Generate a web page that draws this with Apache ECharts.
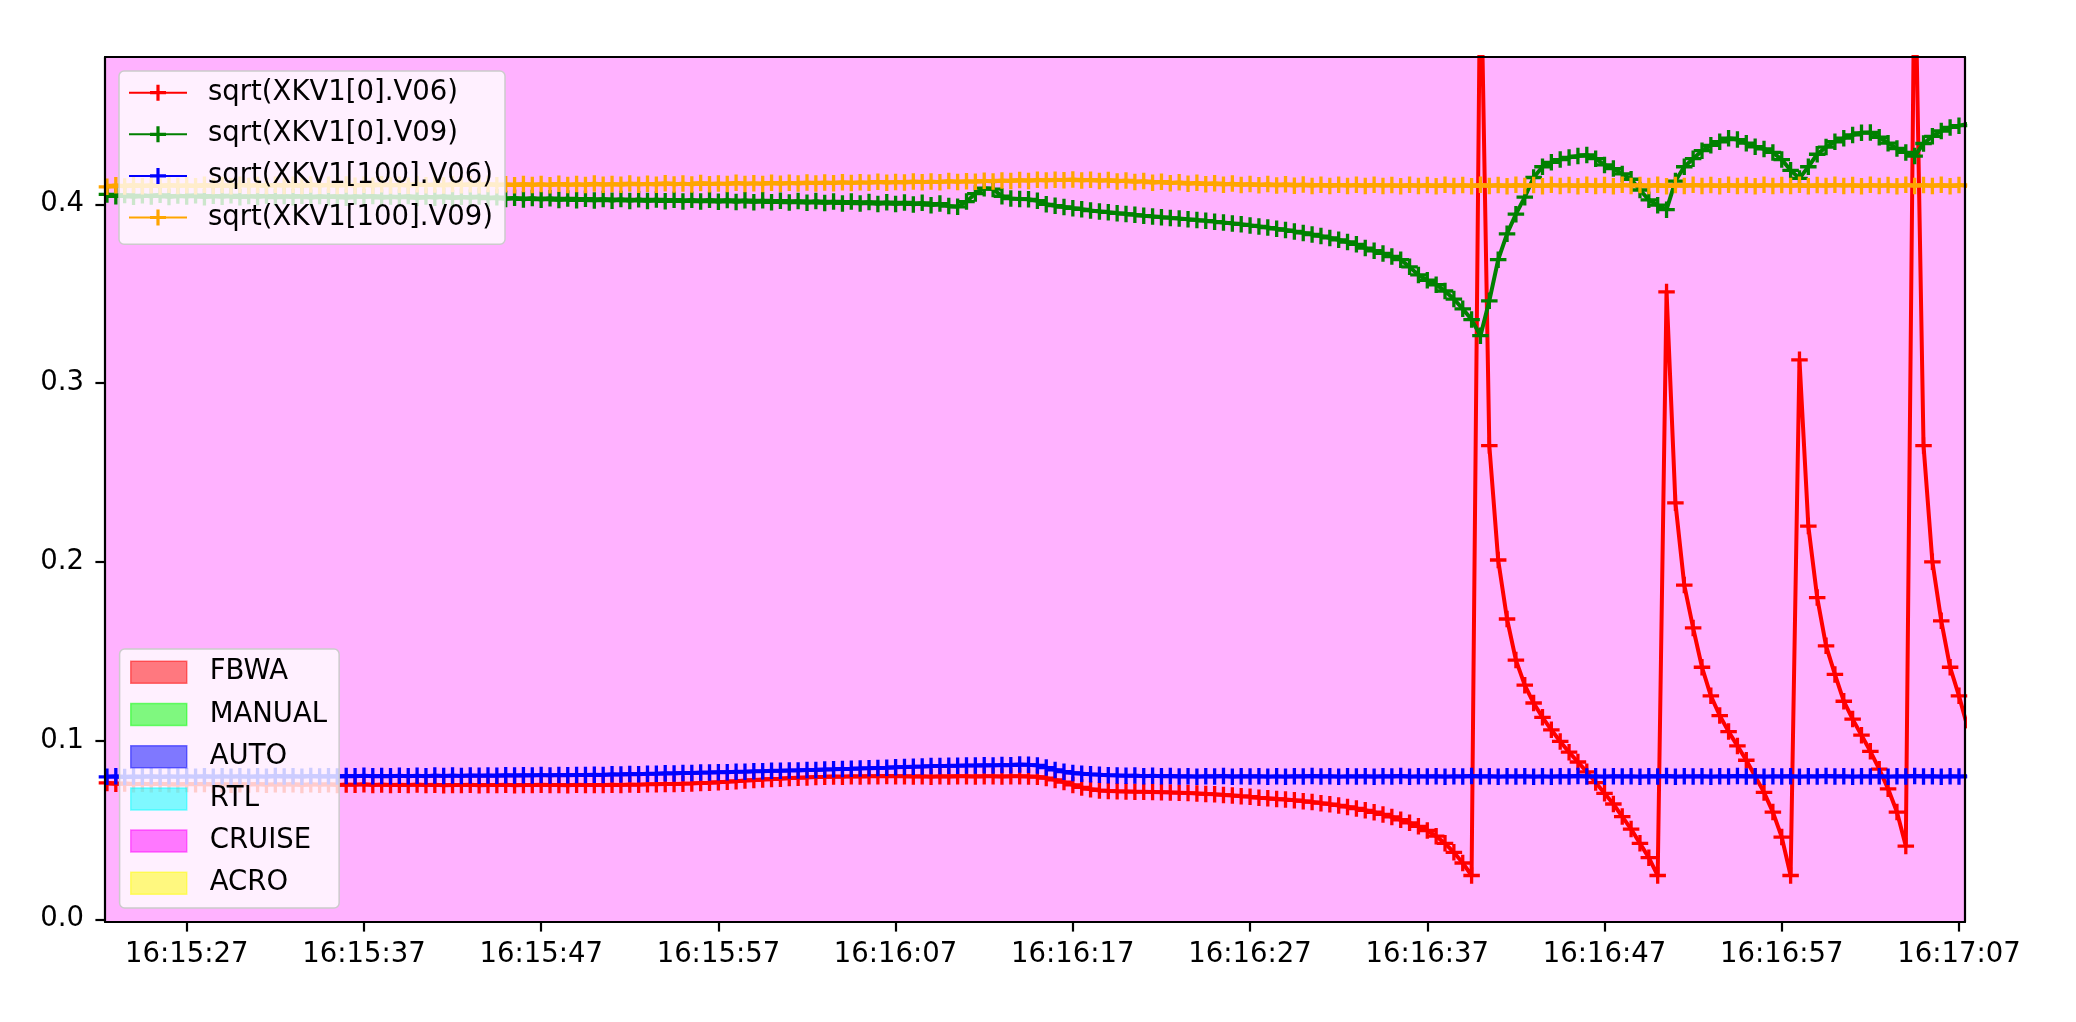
<!DOCTYPE html>
<html>
<head>
<meta charset="utf-8">
<script src="https://cdn.jsdelivr.net/npm/echarts@6/dist/echarts.min.js"></script>
<style>
html,body{margin:0;padding:0;background:#ffffff;}
#chart{width:2076px;height:1022px;}
</style>
</head>
<body>
<div id="chart"></div>
<script>
// ---------------- data ----------------
const seriesNames = ['sqrt(XKV1[0].V06)', 'sqrt(XKV1[0].V09)', 'sqrt(XKV1[100].V06)', 'sqrt(XKV1[100].V09)'];
const seriesColors = ['#ff0000', '#008000', '#0000ff', '#ffa500'];

// samples every 0.5 s starting at this time
const sampleStart = '16:15:22.5';
const samplePeriodSec = 0.5;

const xkv0_v06 = [
0.0763,0.0758,0.0760,0.0756,0.0759,0.0755,0.0758,0.0756,0.0754,0.0757,
0.0755,0.0757,0.0754,0.0756,0.0753,0.0756,0.0754,0.0757,0.0753,0.0755,
0.0754,0.0756,0.0752,0.0755,0.0753,0.0756,0.0752,0.0754,0.0753,0.0755,
0.0752,0.0754,0.0751,0.0753,0.0752,0.0754,0.0751,0.0753,0.0750,0.0752,
0.0751,0.0753,0.0750,0.0752,0.0751,0.0753,0.0750,0.0752,0.0751,0.0753,
0.0751,0.0752,0.0750,0.0753,0.0751,0.0752,0.0751,0.0753,0.0752,0.0754,
0.0753,0.0755,0.0755,0.0757,0.0757,0.0759,0.0760,0.0762,0.0764,0.0767,
0.0770,0.0773,0.0776,0.0779,0.0782,0.0785,0.0787,0.0790,0.0792,0.0794,
0.0796,0.0797,0.0799,0.0798,0.0800,0.0799,0.0801,0.0800,0.0802,0.0800,
0.0801,0.0799,0.0800,0.0798,0.0800,0.0799,0.0801,0.0800,0.0799,0.0801,
0.0800,0.0799,0.0800,0.0801,0.0799,0.0797,0.0790,0.0780,0.0768,0.0752,
0.0738,0.0728,0.0721,0.0718,0.0716,0.0715,0.0714,0.0713,0.0712,0.0711,
0.0710,0.0708,0.0706,0.0704,0.0701,0.0699,0.0696,0.0693,0.0689,0.0686,
0.0680,0.0677,0.0673,0.0670,0.0666,0.0661,0.0656,0.0650,0.0644,0.0637,
0.0629,0.0620,0.0610,0.0599,0.0587,0.0573,0.0557,0.0540,0.0520,0.0497,
0.0465,0.0425,0.0375,0.0315,0.0245,0.5500,0.2650,0.2010,0.1680,0.1450,
0.1310,0.1210,0.1130,0.1060,0.0995,0.0935,0.0880,0.0825,0.0765,0.0705,
0.0645,0.0575,0.0505,0.0425,0.0345,0.0245,0.3510,0.2330,0.1870,0.1630,
0.1410,0.1250,0.1140,0.1050,0.0970,0.0890,0.0800,0.0710,0.0600,0.0460,
0.0245,0.3130,0.2200,0.1800,0.1530,0.1370,0.1220,0.1120,0.1030,0.0940,
0.0840,0.0730,0.0600,0.0410,0.5500,0.2650,0.2000,0.1670,0.1410,0.1250,
0.1070
];

const xkv0_v09 = [
0.4055,0.4045,0.4052,0.4042,0.4050,0.4044,0.4053,0.4041,0.4049,0.4043,
0.4051,0.4040,0.4048,0.4042,0.4050,0.4039,0.4047,0.4041,0.4049,0.4038,
0.4047,0.4040,0.4048,0.4037,0.4046,0.4039,0.4047,0.4036,0.4045,0.4040,
0.4047,0.4036,0.4044,0.4038,0.4046,0.4035,0.4043,0.4037,0.4045,0.4034,
0.4042,0.4036,0.4044,0.4032,0.4040,0.4030,0.4036,0.4027,0.4035,0.4026,
0.4034,0.4024,0.4033,0.4022,0.4031,0.4021,0.4030,0.4020,0.4029,0.4019,
0.4028,0.4018,0.4027,0.4017,0.4026,0.4016,0.4025,0.4015,0.4025,0.4014,
0.4024,0.4013,0.4023,0.4012,0.4022,0.4011,0.4020,0.4010,0.4019,0.4008,
0.4018,0.4007,0.4016,0.4005,0.4015,0.4004,0.4013,0.4002,0.4012,0.4001,
0.4010,0.3999,0.4008,0.3995,0.4004,0.3990,0.3986,0.4015,0.4060,0.4090,
0.4085,0.4045,0.4032,0.4030,0.4028,0.4020,0.4000,0.3992,0.3985,0.3978,
0.3972,0.3965,0.3960,0.3955,0.3950,0.3946,0.3941,0.3936,0.3932,0.3928,
0.3924,0.3920,0.3916,0.3912,0.3908,0.3903,0.3898,0.3893,0.3888,0.3882,
0.3876,0.3870,0.3863,0.3856,0.3848,0.3840,0.3831,0.3822,0.3812,0.3801,
0.3789,0.3776,0.3755,0.3740,0.3725,0.3708,0.3690,0.3650,0.3605,0.3575,
0.3550,0.3515,0.3470,0.3415,0.3355,0.3265,0.3460,0.3690,0.3835,0.3945,
0.4040,0.4150,0.4210,0.4235,0.4250,0.4262,0.4270,0.4276,0.4255,0.4220,
0.4200,0.4170,0.4140,0.4080,0.4025,0.3995,0.3970,0.4130,0.4210,0.4255,
0.4300,0.4330,0.4350,0.4370,0.4362,0.4342,0.4322,0.4310,0.4290,0.4250,
0.4190,0.4145,0.4210,0.4280,0.4320,0.4350,0.4370,0.4388,0.4400,0.4402,
0.4375,0.4342,0.4312,0.4290,0.4270,0.4340,0.4380,0.4410,0.4430,0.4440,
0.4450
];

const xkv100_v06 = [
0.0797,0.0800,0.0796,0.0799,0.0797,0.0801,0.0796,0.0800,0.0797,0.0800,
0.0798,0.0801,0.0797,0.0800,0.0798,0.0801,0.0797,0.0800,0.0798,0.0802,
0.0799,0.0801,0.0798,0.0802,0.0799,0.0801,0.0799,0.0802,0.0800,0.0803,
0.0800,0.0802,0.0800,0.0803,0.0801,0.0803,0.0801,0.0804,0.0802,0.0804,
0.0802,0.0805,0.0803,0.0805,0.0803,0.0806,0.0804,0.0806,0.0805,0.0807,
0.0805,0.0808,0.0806,0.0808,0.0807,0.0809,0.0808,0.0811,0.0810,0.0813,
0.0812,0.0815,0.0814,0.0817,0.0816,0.0819,0.0818,0.0821,0.0821,0.0823,
0.0823,0.0826,0.0826,0.0828,0.0828,0.0831,0.0831,0.0833,0.0833,0.0836,
0.0836,0.0838,0.0839,0.0841,0.0842,0.0844,0.0845,0.0847,0.0848,0.0851,
0.0852,0.0854,0.0855,0.0857,0.0857,0.0859,0.0859,0.0861,0.0860,0.0862,
0.0861,0.0863,0.0862,0.0866,0.0864,0.0861,0.0849,0.0836,0.0826,0.0819,
0.0815,0.0811,0.0809,0.0806,0.0805,0.0803,0.0804,0.0801,0.0803,0.0800,
0.0802,0.0799,0.0801,0.0798,0.0801,0.0799,0.0802,0.0798,0.0801,0.0799,
0.0801,0.0798,0.0800,0.0798,0.0801,0.0799,0.0802,0.0799,0.0801,0.0798,
0.0800,0.0799,0.0801,0.0798,0.0801,0.0799,0.0802,0.0798,0.0800,0.0799,
0.0801,0.0798,0.0800,0.0799,0.0802,0.0799,0.0801,0.0798,0.0800,0.0799,
0.0801,0.0798,0.0800,0.0798,0.0801,0.0799,0.0802,0.0799,0.0800,0.0798,
0.0801,0.0799,0.0800,0.0798,0.0801,0.0799,0.0802,0.0798,0.0800,0.0799,
0.0801,0.0798,0.0800,0.0799,0.0802,0.0799,0.0801,0.0798,0.0800,0.0799,
0.0801,0.0798,0.0800,0.0799,0.0802,0.0799,0.0801,0.0798,0.0800,0.0799,
0.0801,0.0798,0.0800,0.0799,0.0802,0.0799,0.0801,0.0798,0.0800,0.0799,
0.0801
];

const xkv100_v09 = [
0.4098,0.4106,0.4100,0.4108,0.4101,0.4107,0.4100,0.4109,0.4102,0.4107,
0.4101,0.4109,0.4102,0.4108,0.4101,0.4110,0.4103,0.4108,0.4102,0.4110,
0.4103,0.4109,0.4102,0.4111,0.4104,0.4109,0.4103,0.4111,0.4104,0.4110,
0.4104,0.4112,0.4105,0.4110,0.4104,0.4112,0.4106,0.4111,0.4105,0.4113,
0.4106,0.4112,0.4106,0.4114,0.4107,0.4112,0.4106,0.4114,0.4108,0.4113,
0.4107,0.4115,0.4108,0.4113,0.4108,0.4116,0.4109,0.4114,0.4109,0.4117,
0.4110,0.4115,0.4110,0.4118,0.4111,0.4116,0.4111,0.4119,0.4112,0.4117,
0.4113,0.4120,0.4114,0.4118,0.4114,0.4121,0.4115,0.4120,0.4116,0.4122,
0.4117,0.4122,0.4118,0.4124,0.4119,0.4123,0.4120,0.4126,0.4121,0.4125,
0.4122,0.4128,0.4123,0.4127,0.4124,0.4130,0.4125,0.4129,0.4126,0.4132,
0.4128,0.4133,0.4130,0.4136,0.4131,0.4137,0.4133,0.4138,0.4134,0.4139,
0.4133,0.4138,0.4131,0.4136,0.4128,0.4133,0.4125,0.4130,0.4121,0.4126,
0.4118,0.4123,0.4115,0.4120,0.4112,0.4118,0.4110,0.4116,0.4108,0.4114,
0.4106,0.4113,0.4105,0.4112,0.4104,0.4111,0.4103,0.4110,0.4102,0.4110,
0.4103,0.4109,0.4102,0.4110,0.4103,0.4108,0.4101,0.4109,0.4102,0.4108,
0.4101,0.4109,0.4102,0.4108,0.4101,0.4109,0.4102,0.4108,0.4101,0.4109,
0.4102,0.4108,0.4101,0.4109,0.4103,0.4108,0.4101,0.4109,0.4102,0.4108,
0.4101,0.4109,0.4103,0.4108,0.4102,0.4109,0.4101,0.4108,0.4102,0.4110,
0.4103,0.4108,0.4101,0.4109,0.4102,0.4108,0.4101,0.4109,0.4103,0.4108,
0.4102,0.4109,0.4101,0.4108,0.4102,0.4110,0.4103,0.4108,0.4101,0.4109,
0.4102,0.4108,0.4101,0.4109,0.4103,0.4108,0.4102,0.4109,0.4101,0.4108,
0.4102
];

const seriesValues = [xkv0_v06, xkv0_v09, xkv100_v06, xkv100_v09];

const xTickLabels = ['16:15:27', '16:15:37', '16:15:47', '16:15:57', '16:16:07', '16:16:17', '16:16:27', '16:16:37', '16:16:47', '16:16:57', '16:17:07'];
const yTickValues = [0.0, 0.1, 0.2, 0.3, 0.4];
const xRange = ['16:15:22.39', '16:17:07.34'];
const yRange = [-0.0015, 0.4824];

const modeNames = ['FBWA', 'MANUAL', 'AUTO', 'RTL', 'CRUISE', 'ACRO'];
const modeBaseColors = [[255, 0, 0], [0, 255, 0], [0, 0, 255], [0, 255, 255], [255, 0, 255], [255, 255, 0]];
const modeSpans = [
  { mode: 'CRUISE', start: '16:15:22.39', end: '16:17:07.34' }
];

// ---------------- helpers ----------------
function toSec(s) {
  const p = s.split(':');
  return (+p[0]) * 3600 + (+p[1]) * 60 + parseFloat(p[2]);
}
function pad2(n) { return (n < 10 ? '0' : '') + n; }
function fmtTime(v) {
  const s = Math.round(v);
  const h = Math.floor(s / 3600), m = Math.floor((s % 3600) / 60), sec = s % 60;
  return pad2(h) + ':' + pad2(m) + ':' + pad2(sec);
}
function rgba(c, a) { return 'rgba(' + c[0] + ',' + c[1] + ',' + c[2] + ',' + a + ')'; }

const FONT = "'DejaVu Sans', sans-serif";
const FS = 27.5;
const t0 = toSec(sampleStart);
const xMin = toSec(xRange[0]);
const xMax = toSec(xRange[1]);
const xTickSecs = xTickLabels.map(toSec);
const plusPath = 'path://M0,4H4V0H6V4H10V6H6V10H4V6H0Z';

// ---------------- series ----------------
const series = [];
modeNames.forEach((name, k) => {
  const spans = modeSpans.filter(s => s.mode === name);
  const s = {
    name: name,
    type: 'line',
    data: [],
    color: rgba(modeBaseColors[k], 0.5),
    silent: true,
    z: 1
  };
  if (spans.length) {
    s.markArea = {
      silent: true,
      itemStyle: { color: rgba(modeBaseColors[k], 0.3), borderWidth: 0 },
      data: spans.map(sp => [{ xAxis: toSec(sp.start) }, { xAxis: toSec(sp.end) }])
    };
  }
  series.push(s);
});
seriesNames.forEach((name, k) => {
  series.push({
    name: name,
    type: 'line',
    data: seriesValues[k].map((v, i) => [t0 + i * samplePeriodSec, v]),
    color: seriesColors[k],
    symbol: plusPath,
    symbolSize: 16.5,
    showSymbol: true,
    showAllSymbol: true,
    lineStyle: { width: 4, color: seriesColors[k] },
    itemStyle: { color: seriesColors[k], borderWidth: 0 },
    emphasis: { disabled: true },
    silent: true,
    clip: true,
    z: 2
  });
});

const chart = echarts.init(document.getElementById('chart'), null, { renderer: 'canvas' });
chart.setOption({
  animation: false,
  backgroundColor: '#ffffff',
  grid: { left: 105, right: 111, top: 57, bottom: 100, containLabel: false, show: false },
  xAxis: [
    {
      type: 'value', min: xMin, max: xMax, position: 'bottom', z: 5,
      axisLine: { show: true, onZero: false, lineStyle: { color: '#000', width: 2.2 } },
      axisTick: { show: true, customValues: xTickSecs, length: 9.6, inside: false, lineStyle: { color: '#000', width: 2.2 } },
      axisLabel: { show: true, customValues: xTickSecs, formatter: fmtTime, margin: 18.5, color: '#000', fontFamily: FONT, fontSize: FS, lineHeight: 28 },
      splitLine: { show: false }
    },
    {
      type: 'value', min: xMin, max: xMax, position: 'top', z: 5,
      axisLine: { show: true, onZero: false, lineStyle: { color: '#000', width: 2.2 } },
      axisTick: { show: false }, axisLabel: { show: false }, splitLine: { show: false }
    }
  ],
  yAxis: [
    {
      type: 'value', min: yRange[0], max: yRange[1], position: 'left', z: 5,
      axisLine: { show: true, onZero: false, lineStyle: { color: '#000', width: 2.2 } },
      axisTick: { show: true, customValues: yTickValues, length: 9.6, lineStyle: { color: '#000', width: 2.2 } },
      axisLabel: { show: true, customValues: yTickValues, formatter: v => v.toFixed(1), margin: 21, color: '#000', fontFamily: FONT, fontSize: FS },
      splitLine: { show: false }
    },
    {
      type: 'value', min: yRange[0], max: yRange[1], position: 'right', z: 5,
      axisLine: { show: true, onZero: false, lineStyle: { color: '#000', width: 2.2 } },
      axisTick: { show: false }, axisLabel: { show: false }, splitLine: { show: false }
    }
  ],
  legend: [
    {
      data: seriesNames,
      orient: 'vertical', left: 119, top: 71,
      itemWidth: 58, itemHeight: 20, itemGap: 9.6,
      padding: [5.7, 12, 10.7, 9],
      backgroundColor: 'rgba(255,255,255,0.8)', borderColor: '#cccccc', borderWidth: 1.5, borderRadius: 5,
      selectedMode: false,
      textStyle: { fontFamily: FONT, fontSize: FS, color: '#000', lineHeight: 32, padding: [0, 0, 0, 16] }
    },
    {
      data: modeNames.map((n, k) => ({
        name: n, icon: 'rect',
        itemStyle: { color: rgba(modeBaseColors[k], 0.5), borderColor: rgba(modeBaseColors[k], 0.5), borderWidth: 1.5 }
      })),
      orient: 'vertical', left: 119.6, top: 649,
      itemWidth: 56, itemHeight: 22, itemGap: 10.2,
      padding: [7.3, 12, 8.7, 10.4],
      backgroundColor: 'rgba(255,255,255,0.8)', borderColor: '#cccccc', borderWidth: 1.5, borderRadius: 5,
      selectedMode: false,
      textStyle: { fontFamily: FONT, fontSize: FS, color: '#000', lineHeight: 32, padding: [0, 0, 0, 18] }
    }
  ],
  series: series
});
</script>
</body>
</html>
